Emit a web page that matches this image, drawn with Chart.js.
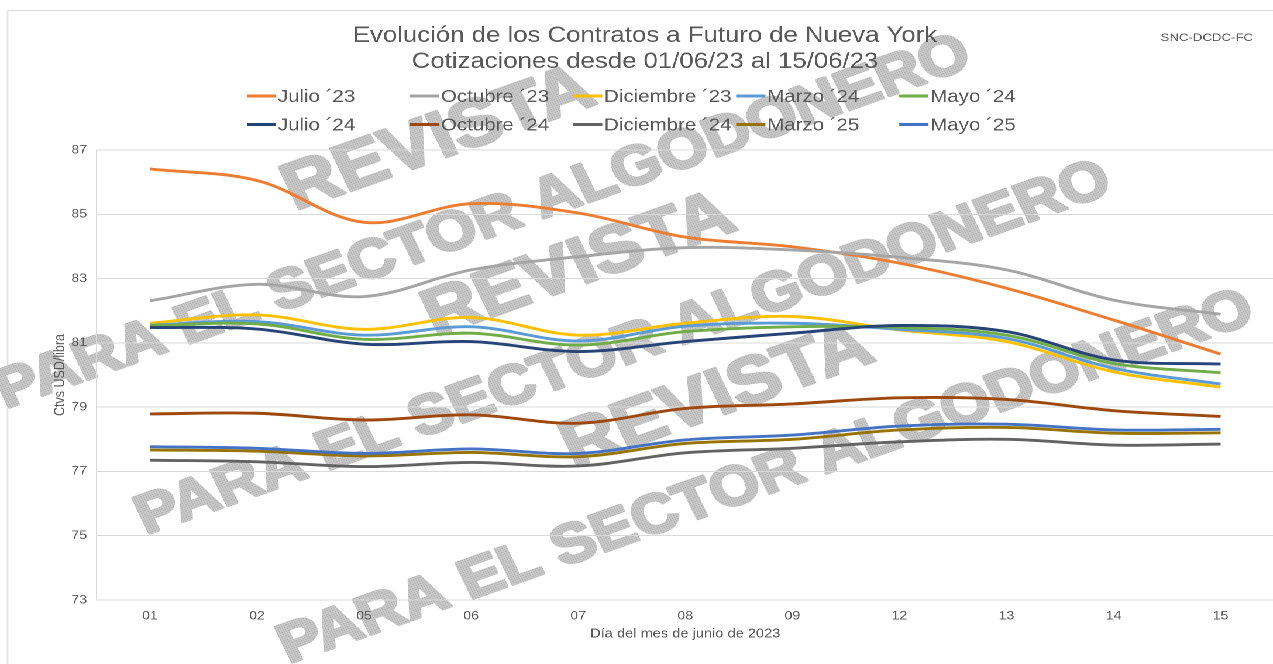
<!DOCTYPE html>
<html><head><meta charset="utf-8">
<script src="https://cdn.jsdelivr.net/npm/chart.js@4.4.0/dist/chart.umd.min.js"></script>
<style>
html,body{margin:0;padding:0;background:#fff;overflow:hidden;width:1273px;height:664px;}
#wrap{position:absolute;left:0;top:0;width:1090px;height:664px;transform:scaleX(1.17);transform-origin:0 0;}
#frame{position:absolute;left:6px;top:10px;width:2000px;height:2000px;border:1px solid #d9d9d9;}
#c{position:absolute;left:0;top:0;}
</style></head>
<body><div id="wrap"><div id="frame"></div><canvas id="c" width="1090" height="664"></canvas></div>
<script>
// ---- data ----
const days = ['01','02','05','06','07','08','09','12','13','14','15'];
const seriesNames = ['Julio ´23','Octubre ´23','Diciembre ´23','Marzo ´24','Mayo ´24','Julio ´24','Octubre ´24','Diciembre ´24','Marzo ´25','Mayo ´25'];
const julio23     = [86.41, 86.05, 84.75, 85.33, 85.04, 84.29, 83.99, 83.48, 82.70, 81.71, 80.65];
const octubre23   = [82.31, 82.82, 82.44, 83.27, 83.68, 83.96, 83.89, 83.66, 83.27, 82.33, 81.89];
const diciembre23 = [81.61, 81.87, 81.42, 81.79, 81.24, 81.61, 81.82, 81.40, 81.04, 80.10, 79.62];
const marzo24     = [81.55, 81.66, 81.24, 81.50, 81.06, 81.52, 81.61, 81.42, 81.14, 80.21, 79.72];
const mayo24      = [81.53, 81.59, 81.11, 81.30, 80.93, 81.35, 81.50, 81.48, 81.24, 80.36, 80.07];
const julio24     = [81.48, 81.43, 80.96, 81.04, 80.73, 81.04, 81.30, 81.54, 81.35, 80.47, 80.34];
const octubre24   = [78.79, 78.81, 78.60, 78.76, 78.50, 78.96, 79.10, 79.29, 79.24, 78.89, 78.71];
const diciembre24 = [77.35, 77.30, 77.15, 77.28, 77.17, 77.58, 77.72, 77.92, 78.00, 77.82, 77.85];
const marzo25     = [77.67, 77.63, 77.48, 77.59, 77.46, 77.87, 78.00, 78.29, 78.37, 78.19, 78.20];
const mayo25      = [77.77, 77.72, 77.56, 77.70, 77.56, 77.98, 78.13, 78.41, 78.47, 78.29, 78.31];
const seriesValues = [julio23, octubre23, diciembre23, marzo24, mayo24, julio24, octubre24, diciembre24, marzo25, mayo25];
const yTicks = [73, 75, 77, 79, 81, 83, 85, 87];
const titleLines = ['Evolución de los Contratos a Futuro de Nueva York', 'Cotizaciones desde 01/06/23 al 15/06/23'];
const yTitle = 'Ctvs USD/libra';
const xTitle = 'Día del mes de junio de 2023';
const sourceTag = 'SNC-DCDC-FC';
const watermarkWords = ['REVISTA', 'PARA EL SECTOR ALGODONERO'];

// ---- styles ----
const FONT = '"Liberation Sans", Arial, sans-serif';
const TEXT = '#595959';
const GRID = '#d9d9d9';
const colors = ['#ED7D31','#A5A5A5','#FFC000','#5B9BD5','#70AD47','#264478','#9E480E','#636363','#997300','#4472C4'];
const LEG = {x0: 211, dx: 139.4, y0: 96, dy: 28.5, len: 25, font: 17.5};
const WM_ANGLE = -22.5;
const WM_SIZE = [66, 55];
const WM = [
  {w:1, x:413, y:223}, {w:0, x:375, y:140},
  {w:1, x:533, y:349}, {w:0, x:495, y:266},
  {w:1, x:655, y:478}, {w:0, x:613, y:397}
];

const wmPlugin = {
  id: 'wm',
  beforeDraw(chart) {
    const ctx = chart.ctx;
    const tile = document.createElement('canvas');
    tile.width = 2; tile.height = 2;
    const t = tile.getContext('2d');
    t.fillStyle = '#cdcdcd'; t.fillRect(0, 0, 2, 2);
    t.fillStyle = '#a2a2a2'; t.fillRect(0, 0, 1, 1);
    const pat = ctx.createPattern(tile, 'repeat');
    ctx.save();
    ctx.fillStyle = pat;
    ctx.strokeStyle = pat;
    ctx.lineWidth = 3;
    ctx.lineJoin = 'round';
    ctx.textAlign = 'center';
    ctx.textBaseline = 'middle';
    WM.forEach(m => {
      ctx.save();
      ctx.font = 'bold ' + WM_SIZE[m.w] + 'px ' + FONT;
      ctx.translate(m.x, m.y);
      ctx.rotate(WM_ANGLE * Math.PI / 180);
      ctx.strokeText(watermarkWords[m.w], 0, 0);
      ctx.fillText(watermarkWords[m.w], 0, 0);
      ctx.restore();
    });
    ctx.restore();
  }
};

const legendPlugin = {
  id: 'gridLegend',
  afterDraw(chart) {
    const ctx = chart.ctx;
    ctx.save();
    ctx.font = LEG.font + 'px ' + FONT;
    ctx.textBaseline = 'middle';
    ctx.textAlign = 'left';
    chart.data.datasets.forEach((ds, i) => {
      const x = LEG.x0 + (i % 5) * LEG.dx;
      const y = LEG.y0 + Math.floor(i / 5) * LEG.dy;
      ctx.strokeStyle = ds.borderColor;
      ctx.lineWidth = 3;
      ctx.beginPath(); ctx.moveTo(x, y); ctx.lineTo(x + LEG.len, y); ctx.stroke();
      ctx.fillStyle = TEXT;
      ctx.fillText(ds.label, x + LEG.len + 1.5, y + 1);
    });
    ctx.font = '11.3px ' + FONT;
    ctx.textAlign = 'right';
    ctx.fillText(sourceTag, 1071, 38);
    ctx.restore();
  }
};

new Chart(document.getElementById('c'), {
  type: 'line',
  data: {
    labels: days,
    datasets: seriesNames.map((n, i) => ({
      label: n,
      data: seriesValues[i],
      borderColor: colors[i],
      backgroundColor: colors[i],
      borderWidth: 2.9,
      pointRadius: 0,
      tension: 0.35,
      fill: false,
      order: seriesNames.length - i
    }))
  },
  options: {
    responsive: false,
    devicePixelRatio: 2,
    animation: false,
    events: [],
    layout: {padding: {left: 13.6, right: 1, top: 0, bottom: 0}},
    plugins: {
      legend: {display: false},
      tooltip: {enabled: false},
      title: {
        display: true, text: titleLines, color: TEXT,
        font: {family: FONT, size: 22, weight: 'normal', lineHeight: '26px'},
        padding: {top: 23, bottom: 75}
      }
    },
    scales: {
      x: {
        offset: true,
        grid: {display: false, drawTicks: false},
        border: {display: true, color: GRID},
        ticks: {color: TEXT, font: {family: FONT, size: 12}, padding: 9, maxRotation: 0, autoSkip: false},
        title: {display: true, text: xTitle, color: TEXT, font: {family: FONT, size: 12.5}, padding: {top: 0, bottom: 22.5}},
        afterFit(s) { s.height = 64; }
      },
      y: {
        min: yTicks[0], max: yTicks[yTicks.length - 1],
        afterBuildTicks(s) { s.ticks = yTicks.map(v => ({value: v})); },
        grid: {color: GRID, drawTicks: false, lineWidth: 1},
        border: {display: true, color: GRID},
        ticks: {color: TEXT, font: {family: FONT, size: 12}, padding: 8},
        title: {display: true, text: yTitle, color: TEXT, font: {family: FONT, size: 12.5}, padding: {top: 30.2, bottom: 0}},
        afterFit(s) { s.width = 68.8; }
      }
    }
  },
  plugins: [wmPlugin, legendPlugin]
});
</script>
</body></html>
